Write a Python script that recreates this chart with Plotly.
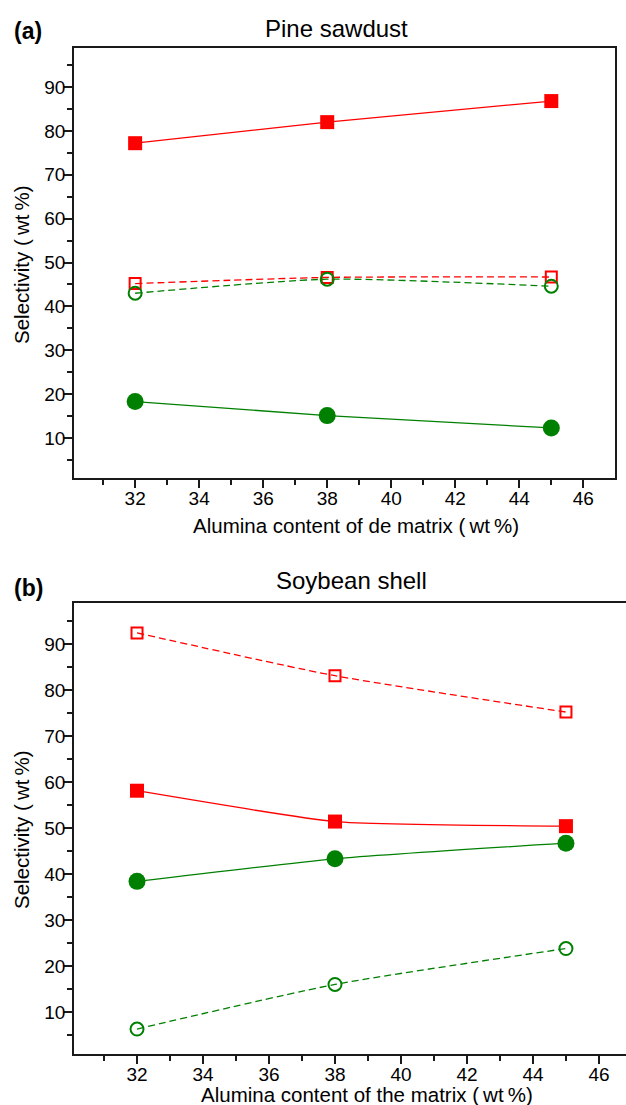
import plotly.graph_objects as go

W, H = 626, 1105

# ---------------- data ----------------
alumina = [32, 38, 45]

# (a) Pine sawdust
pine_red_filled = [77.2, 82.0, 86.8]
pine_red_open = [45.2, 46.6, 46.7]
pine_green_open = [43.0, 46.2, 44.6]
pine_green_filled = [18.3, 15.1, 12.3]

# (b) Soybean shell
soy_red_open = [92.4, 83.1, 75.2]
soy_red_filled = [58.1, 51.4, 50.4]
soy_green_filled = [38.4, 43.3, 46.7]
soy_green_open = [6.3, 16.0, 23.8]

x_ticks = [32, 34, 36, 38, 40, 42, 44, 46]
y_ticks = [10, 20, 30, 40, 50, 60, 70, 80, 90]

RED = "#ff0000"
GREEN = "#008000"
FONT = "Liberation Sans, Arial, sans-serif"
AXC = "#1a1a1a"


def px(v):
    return v / W


def py(v):
    return 1 - v / H


fig = go.Figure()


def add_series(xa, ya, y, color, symbol, dashed, smoothing=0.6):
    is_open = symbol.endswith("open")
    if symbol.startswith("square"):
        size = 11 if is_open else 14
    else:
        size = 13 if is_open else 17
    fig.add_trace(go.Scatter(
        x=alumina, y=y, xaxis=xa, yaxis=ya, mode="lines+markers",
        line=dict(color=color, width=1.3, shape="spline", smoothing=smoothing,
                  dash="7px,4px" if dashed else "solid"),
        marker=dict(symbol=symbol, size=size, color=color,
                    line=dict(color=color, width=2 if is_open else 0)),
        showlegend=False, hoverinfo="skip"))


add_series("x", "y", pine_red_filled, RED, "square", False)
add_series("x", "y", pine_red_open, RED, "square-open", True)
add_series("x", "y", pine_green_open, GREEN, "circle-open", True)
add_series("x", "y", pine_green_filled, GREEN, "circle", False)

add_series("x2", "y2", soy_red_open, RED, "square-open", True)
add_series("x2", "y2", soy_red_filled, RED, "square", False, smoothing=0.45)
add_series("x2", "y2", soy_green_filled, GREEN, "circle", False)
add_series("x2", "y2", soy_green_open, GREEN, "circle-open", True)

tickfont = dict(family=FONT, size=19, color="black")


def xaxis(domain, rng, anchor):
    return dict(domain=domain, range=rng, anchor=anchor,
                tickmode="array", tickvals=x_ticks, ticktext=[str(t) for t in x_ticks],
                ticks="outside", ticklen=8, tickwidth=1.5, tickcolor=AXC,
                ticklabelstandoff=-6,
                minor=dict(dtick=1, tick0=31, ticks="outside", ticklen=5,
                           tickwidth=1.5, tickcolor=AXC, showgrid=False),
                showline=True, linecolor=AXC, linewidth=1.5, mirror=True,
                showgrid=False, zeroline=False, tickfont=tickfont)


def yaxis(domain, anchor, mirror):
    return dict(domain=domain, range=[0.88, 98.9], anchor=anchor,
                tickmode="array", tickvals=y_ticks, ticktext=[str(t) for t in y_ticks],
                ticks="outside", ticklen=8, tickwidth=1.5, tickcolor=AXC,
                ticklabelstandoff=-5,
                minor=dict(dtick=10, tick0=5, ticks="outside", ticklen=5,
                           tickwidth=1.5, tickcolor=AXC, showgrid=False),
                showline=True, linecolor=AXC, linewidth=1.5, mirror=mirror,
                showgrid=False, zeroline=False, tickfont=tickfont)


fig.update_layout(
    width=W, height=H, margin=dict(l=0, r=0, t=0, b=0),
    paper_bgcolor="white", plot_bgcolor="white",
    xaxis=xaxis([px(74), px(615)], [30.09, 46.99], "y"),
    yaxis=yaxis([py(478), py(48)], "x", True),
    xaxis2=xaxis([px(74), 1.0], [30.09, 46.82], "y2"),
    yaxis2=yaxis([py(1054), py(603)], "x2", False),
)

ann = []


def text(x, y, s, size, angle=0):
    ann.append(dict(x=px(x), y=py(y), xref="paper", yref="paper", text=s,
                    showarrow=False, xanchor="center", yanchor="middle",
                    textangle=angle,
                    font=dict(family=FONT, size=size, color="black")))


text(28, 31, "<b>(a)</b>", 23)
text(336, 28, "Pine sawdust", 24)
text(356, 525, "Alumina content of de matrix (\u2009wt\u2009%)", 20.5)
text(21, 265, "Selectivity (\u2009wt\u2009%)", 20.5, angle=-90)

text(28, 588, "<b>(b)</b>", 23)
text(351, 580, "Soybean shell", 24)
text(367, 1094, "Alumina content of the matrix (\u2009wt\u2009%)", 20.5)
text(21, 830, "Selectivity (\u2009wt\u2009%)", 20.5, angle=-90)

fig.update_layout(annotations=ann)

fig.write_html("out.html")
